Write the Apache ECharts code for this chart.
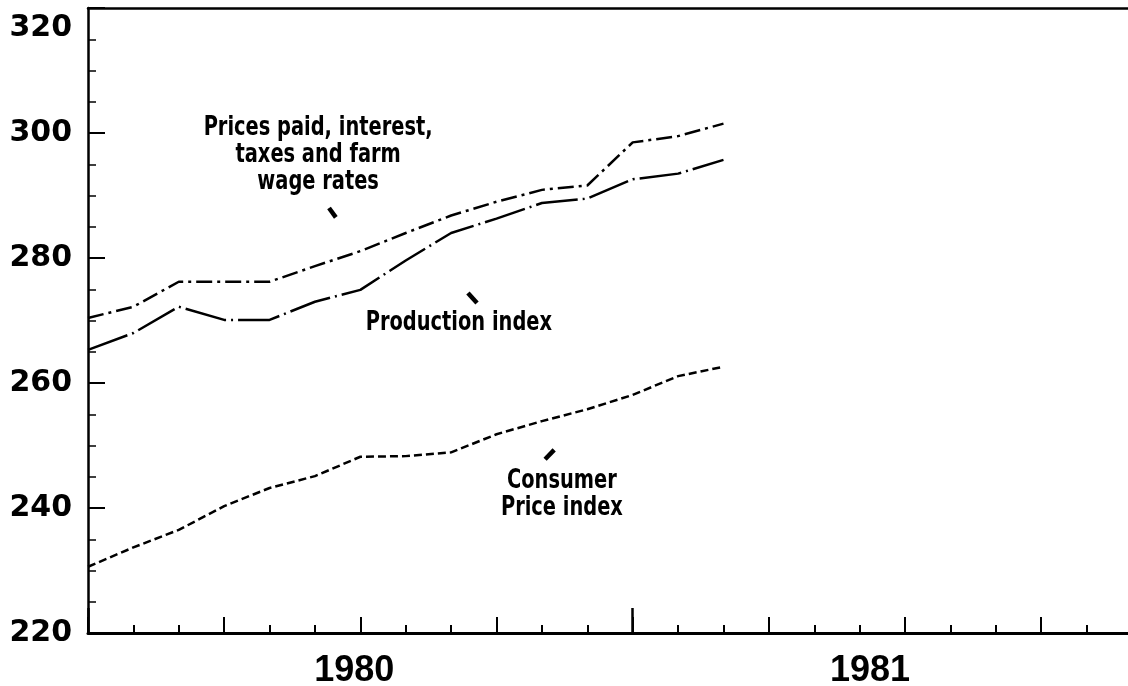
<!DOCTYPE html>
<html>
<head>
<meta charset="utf-8">
<script src="https://cdn.jsdelivr.net/npm/echarts@6/dist/echarts.min.js"></script>
<style>
html,body{margin:0;padding:0;background:#fff;}
#chart{width:1128px;height:686px;}
</style>
</head>
<body>
<div id="chart"></div>
<script>
// Months from Jan 1980 (0) onward
var months = [0,1,2,3,4,5,6,7,8,9,10,11,12,13,14];
var pricesPaid = [270.4,272.2,276.2,276.2,276.2,278.7,281.1,284.0,286.8,289.0,290.9,291.6,298.5,299.5,301.5];
var production = [265.3,268.0,272.2,270.1,270.1,273.0,274.9,279.6,284.0,286.3,288.8,289.5,292.6,293.5,295.7];
var cpi        = [230.6,233.7,236.5,240.3,243.2,245.1,248.2,248.3,248.9,251.8,253.9,255.8,258.1,261.1,262.6];
var yearLabels = {6:'1980', 18:'1981'};
var yTicks = [220,240,260,280,300,320];

// annotation texts and pointer strokes (data coordinates)
var notes = [
  {text:'Prices paid, interest,\ntaxes and farm\nwage rates', at:[5.07,296.4]},
  {text:'Production index', at:[8.17,269.6]},
  {text:'Consumer\nPrice index', at:[10.44,242.2]}
];
var pointers = [
  [[5.31,288.0],[5.46,286.5]],
  [[8.37,274.4],[8.57,272.8]],
  [[10.07,247.8],[10.27,249.3]]
];

function pairs(vals){ return months.map(function(m,i){ return [m, vals[i]]; }); }

var chart = echarts.init(document.getElementById('chart'));
var X = {min:0, max:23};
var option = {
  backgroundColor:'#fff',
  animation:false,
  grid:{left:88, right:-4, top:8, bottom:53, containLabel:false, outerBoundsMode:'none'},
  xAxis:[
    {type:'value', min:X.min, max:X.max, interval:1, position:'bottom',
     axisLine:{show:true, onZero:false, lineStyle:{color:'#000', width:3}},
     axisTick:{show:true, inside:true, length:8, lineStyle:{color:'#000', width:2}},
     splitLine:{show:false},
     axisLabel:{show:true, margin:20, color:'#000',
       formatter:function(v){ if(v===6) return '{a|'+yearLabels[6]+'}'; if(v===18) return '{b|'+yearLabels[18]+'}'; return ''; },
       rich:{
         a:{fontFamily:'Liberation Sans', fontWeight:'bold', fontSize:36, color:'#000', padding:[0,12,0,0]},
         b:{fontFamily:'Liberation Sans', fontWeight:'bold', fontSize:36, color:'#000', padding:[0,70,0,0]}
       }}
    },
    {type:'value', min:X.min, max:X.max, interval:3, position:'bottom',
     axisLine:{show:false, onZero:false}, axisLabel:{show:false}, splitLine:{show:false},
     axisTick:{show:true, inside:true, length:16, lineStyle:{color:'#000', width:2}}},
    {type:'value', min:X.min, max:X.max, interval:12, position:'bottom',
     axisLine:{show:false, onZero:false}, axisLabel:{show:false}, splitLine:{show:false},
     axisTick:{show:true, inside:true, length:25, lineStyle:{color:'#000', width:2.5}}},
    {type:'value', min:X.min, max:X.max, position:'top',
     axisLine:{show:true, onZero:false, lineStyle:{color:'#000', width:2.5}},
     axisTick:{show:false}, axisLabel:{show:false}, splitLine:{show:false}}
  ],
  yAxis:{
    type:'value', min:yTicks[0], max:yTicks[yTicks.length-1], interval:20,
    axisLine:{show:true, onZero:false, lineStyle:{color:'#000', width:2.5}},
    axisTick:{show:true, inside:true, length:17, lineStyle:{color:'#000', width:2}},
    minorTick:{show:true, splitNumber:4, length:8, lineStyle:{color:'#000', width:1.5}},
    splitLine:{show:false},
    axisLabel:{margin:16, color:'#000', fontFamily:'DejaVu Sans', fontWeight:'bold', fontSize:30,
      formatter:function(v){ return v===320 ? '{t|320}' : '{n|'+v+'}'; },
      rich:{
        t:{fontFamily:'DejaVu Sans', fontWeight:'bold', fontSize:30, color:'#000', padding:[40,0,0,0]},
        n:{fontFamily:'DejaVu Sans', fontWeight:'bold', fontSize:30, color:'#000'}
      }}
  },
  series:[
    {name:'Prices paid, interest, taxes and farm wage rates', type:'line', data:pairs(pricesPaid),
     showSymbol:false, symbol:'none', lineStyle:{color:'#000', width:2.5, type:[16,5,3,5]}},
    {name:'Production index', type:'line', data:pairs(production),
     showSymbol:false, symbol:'none', lineStyle:{color:'#000', width:2.5, type:[42,5,2,5]}},
    {name:'Consumer Price index', type:'line', data:pairs(cpi),
     showSymbol:false, symbol:'none', lineStyle:{color:'#000', width:2.5, type:[8,4]},
     markLine:{silent:true, symbol:['none','none'], label:{show:false},
       lineStyle:{color:'#000', width:4.5, type:'solid'},
       data:pointers.map(function(p){ return [{coord:p[0]},{coord:p[1]}]; })}
    }
  ]
};
chart.setOption(option);

// annotation texts placed at data coordinates
var g = notes.map(function(n){
  var p = chart.convertToPixel({xAxisIndex:0, yAxisIndex:0}, n.at);
  return {type:'text', x:p[0], y:p[1], scaleX:0.83, silent:true,
    style:{text:n.text, fill:'#000', font:'bold 26px "DejaVu Sans Condensed"',
      align:'center', verticalAlign:'middle', lineHeight:27}};
});
chart.setOption({graphic:g});
</script>
</body>
</html>
